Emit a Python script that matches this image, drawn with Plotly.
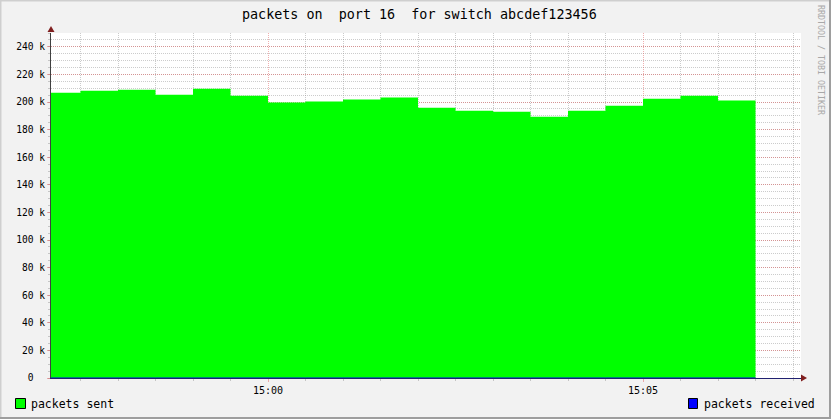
import plotly.graph_objects as go

# ---------------- data ----------------
DAY = "2024-01-01 "
bar_starts = ["14:57:00", "14:57:30", "14:58:00", "14:58:30", "14:59:00", "14:59:30",
              "15:00:00", "15:00:30", "15:01:00", "15:01:30", "15:02:00", "15:02:30",
              "15:03:00", "15:03:30", "15:04:00", "15:04:30", "15:05:00", "15:05:30",
              "15:06:00"]
data_end = "15:06:30"
packets_sent = [206700, 208200, 208900, 205300, 209600, 204600, 199600, 200300, 201800,
                203200, 195900, 193700, 193000, 189300, 193700, 197300, 202400, 204600,
                201100]
packets_received = [0] * len(bar_starts)

y_tickvals = [0, 20000, 40000, 60000, 80000, 100000, 120000, 140000, 160000,
              180000, 200000, 220000, 240000]
y_ticktext = ["0\u00a0\u00a0", "20 k", "40 k", "60 k", "80 k", "100 k", "120 k",
              "140 k", "160 k", "180 k", "200 k", "220 k", "240 k"]
x_range = ["14:57:06.4", "15:07:06.4"]
y_range = [0, 250000]

title_text = "packets on\u00a0\u00a0port 16\u00a0\u00a0for switch abcdef123456"
legend_labels = ["packets sent", "packets received"]
series_colors = ["#00FF00", "#0000FF"]

# ---------------- layout geometry ----------------
W, H = 831, 419
L, R, T, B = 51, 30, 33, 41
PW, PH = W - L - R, H - T - B
MONO = "DejaVu Sans Mono"


def px(x):
    return (x - L) / PW


def py(y):
    return (H - B - y) / PH


BG = "#F2F2F2"
GRID = "rgba(143,143,143,0.45)"
MGRID = "rgba(222,79,79,0.45)"
ARROW = "#801F1F"

fig = go.Figure()

xs = [DAY + t for t in bar_starts] + [DAY + data_end]
fig.add_trace(go.Scatter(
    x=xs, y=packets_sent + [packets_sent[-1]],
    mode="lines", line=dict(width=0, shape="hv", color=series_colors[0]),
    fill="tozeroy", fillcolor=series_colors[0],
    name=legend_labels[0], showlegend=False, hoverinfo="skip"))
fig.add_trace(go.Scatter(
    x=xs, y=packets_received + [packets_received[-1]],
    mode="lines", line=dict(width=1, shape="hv", color=series_colors[1]),
    name=legend_labels[1], showlegend=False, hoverinfo="skip"))

shapes = []
# outer 3D frame
shapes.append(dict(type="line", xref="paper", yref="paper", x0=px(0), x1=px(W), y0=py(0.5), y1=py(0.5),
                   line=dict(color="#CFCFCF", width=2)))
shapes.append(dict(type="line", xref="paper", yref="paper", x0=px(0.5), x1=px(0.5), y0=py(0), y1=py(H),
                   line=dict(color="#CFCFCF", width=2)))
shapes.append(dict(type="line", xref="paper", yref="paper", x0=px(0), x1=px(W), y0=py(H - 1), y1=py(H - 1),
                   line=dict(color="#9E9E9E", width=2)))
shapes.append(dict(type="line", xref="paper", yref="paper", x0=px(W - 1), x1=px(W - 1), y0=py(0), y1=py(H),
                   line=dict(color="#9E9E9E", width=2)))
# axis arrows
shapes.append(dict(type="path", xref="paper", yref="paper",
                   path=f"M {px(47.5)} {py(32)} L {px(51)} {py(26)} L {px(54.5)} {py(32)} Z",
                   fillcolor=ARROW, line=dict(width=0)))
shapes.append(dict(type="path", xref="paper", yref="paper",
                   path=f"M {px(801)} {py(374.5)} L {px(807)} {py(378)} L {px(801)} {py(381.5)} Z",
                   fillcolor=ARROW, line=dict(width=0)))
# legend boxes
shapes.append(dict(type="rect", xref="paper", yref="paper", x0=px(15.5), x1=px(25.5), y0=py(398.5), y1=py(408.5),
                   fillcolor=series_colors[0], line=dict(color="black", width=1)))
shapes.append(dict(type="rect", xref="paper", yref="paper", x0=px(688.5), x1=px(697.5), y0=py(398.5), y1=py(408.5),
                   fillcolor=series_colors[1], line=dict(color="black", width=1)))

annotations = [
    dict(text=legend_labels[0], xref="paper", yref="paper", x=px(29), y=py(403.5),
         xanchor="left", yanchor="middle", showarrow=False,
         font=dict(family=MONO, size=11.5, color="black")),
    dict(text=legend_labels[1], xref="paper", yref="paper", x=px(702), y=py(403.5),
         xanchor="left", yanchor="middle", showarrow=False,
         font=dict(family=MONO, size=11.5, color="black")),
    dict(text="RRDTOOL / TOBI OETIKER", xref="paper", yref="paper", x=px(821), y=py(60),
         xanchor="center", yanchor="middle", textangle=90, showarrow=False,
         font=dict(family=MONO, size=8.3, color="#A8A8A8")),
    dict(text=title_text, xref="paper", yref="paper", x=px(419.5), y=py(14),
         xanchor="center", yanchor="middle", showarrow=False,
         font=dict(family=MONO, size=13.4, color="black")),
]

fig.update_layout(
    width=W, height=H,
    margin=dict(l=L, r=R, t=T, b=B, pad=0),
    paper_bgcolor=BG, plot_bgcolor="#FFFFFF",
    showlegend=False, hovermode=False,
    shapes=shapes, annotations=annotations,
    xaxis=dict(
        type="date", range=[DAY + x_range[0], DAY + x_range[1]],
        tick0=DAY + "15:00:00", dtick=300000, tickformat="%H:%M",
        showgrid=True, gridcolor=MGRID, griddash="1px,1px", gridwidth=1,
        ticks="outside", ticklen=3, tickcolor=MGRID, tickwidth=1,
        minor=dict(dtick=30000, tick0=DAY + "15:00:00", showgrid=True, gridcolor=GRID,
                   griddash="1px,1px", gridwidth=1, ticks="outside", ticklen=2, tickcolor=GRID),
        showline=True, linecolor="#202070", linewidth=1, zeroline=False,
        tickfont=dict(family=MONO, size=10, color="black"),
        fixedrange=True,
    ),
    yaxis=dict(
        range=y_range, tickvals=y_tickvals, ticktext=y_ticktext,
        showgrid=True, gridcolor=MGRID, griddash="1px,1px", gridwidth=1,
        ticks="outside", ticklen=3, tickcolor=MGRID, tickwidth=1,
        minor=dict(dtick=5000, showgrid=True, gridcolor=GRID, griddash="1px,1px",
                   gridwidth=1, ticks="outside", ticklen=2, tickcolor=GRID),
        showline=True, linecolor="#404040", linewidth=1, zeroline=False,
        tickfont=dict(family=MONO, size=9.6, color="black"),
        fixedrange=True,
    ),
)

fig.write_html("out.html", config={"displayModeBar": False, "staticPlot": True})
